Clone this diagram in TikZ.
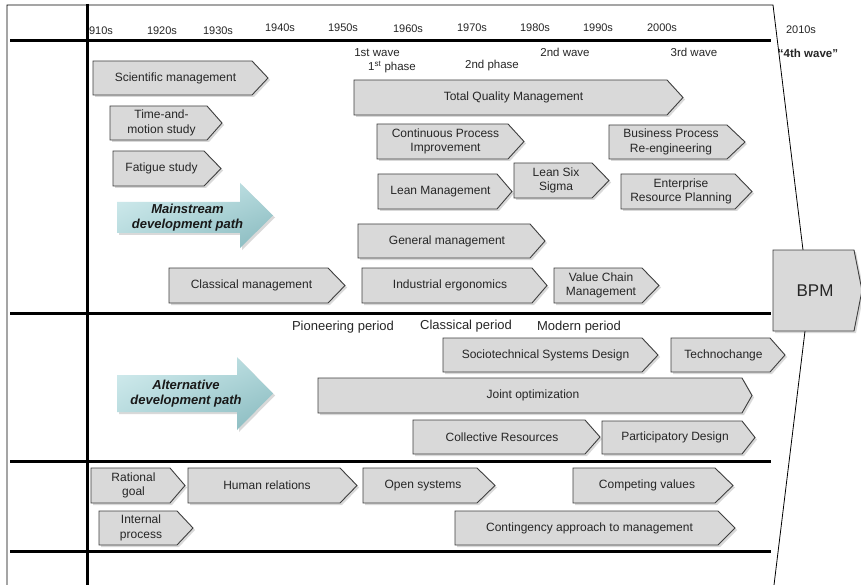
\documentclass[tikz,border=0pt]{standalone}
\usepackage{fontspec}
\setmainfont{Liberation Sans}
\usetikzlibrary{shadings}

\definecolor{boxfill}{HTML}{D9D9D9}
\definecolor{boxedge}{HTML}{3F3F3F}
\definecolor{tealA}{HTML}{D6EEF0}
\definecolor{tealB}{HTML}{B2D8DB}
\definecolor{tealC}{HTML}{86B8BD}
\definecolor{inkgray}{HTML}{262626}

\tikzset{
  chevbox/.style={fill=boxfill, draw=boxedge, line width=0.9pt, line join=miter},
  chevshadow/.style={fill=black, opacity=0.15},
  chevtext/.style={font=\fontsize{12}{14.5}\selectfont, text=inkgray, align=center, inner sep=0pt},
  decade/.style={font=\fontsize{11}{13}\selectfont, text=inkgray, inner sep=0pt},
  wave/.style={font=\fontsize{11.5}{13}\selectfont, text=inkgray, inner sep=0pt},
  period/.style={font=\fontsize{13}{15}\selectfont, text=inkgray, inner sep=0pt},
  pathtext/.style={font=\fontsize{13}{14.5}\selectfont\bfseries\itshape, text=black!90, align=center, inner sep=0pt},
  frameline/.style={line width=0.8pt, black},
  rule/.style={line width=3pt, black},
}

% chevron box: name, left, top, body end, tip, bottom, label
\newcommand\chev[7]{%
  \fill[chevshadow, shift={(2,2)}] (#2,#3) -- (#4,#3) -- (#5,{(#3+#6)/2}) -- (#4,#6) -- (#2,#6) -- cycle;
  \draw[chevbox] (#2,#3) -- (#4,#3) -- (#5,{(#3+#6)/2}) -- (#4,#6) -- (#2,#6) -- cycle;
  \node[chevtext] (#1) at ({(#2+#4)/2+3},{(#3+#6)/2}) {#7};
}

% block arrow: name, left, shaft top, shaft bottom, head top, head bottom, shaft end, tip, label
\newcommand\bigarrow[9]{%
  \fill[chevshadow, shift={(2,2)}] (#2,#3) -- (#7,#3) -- (#7,#5) -- (#8,{(#5+#6)/2}) -- (#7,#6) -- (#7,#4) -- (#2,#4) -- cycle;
  \shade[upper left=tealA, upper right=tealB, lower left=tealB, lower right=tealC]
    (#2,#3) -- (#7,#3) -- (#7,#5) -- (#8,{(#5+#6)/2}) -- (#7,#6) -- (#7,#4) -- (#2,#4) -- cycle;
  \node[pathtext] (#1) at ({(#2+#7)/2+9},{(#3+#4)/2}) {#9};
}

\begin{document}
\begin{tikzpicture}[x=1pt, y=-1pt]
\useasboundingbox (0,0) rectangle (861,585);
\clip (0,0) rectangle (861,585);
\fill[white] (0,0) rectangle (861,585);

% outer frame and funnel towards BPM
\draw[frameline] (7,585) -- (7,5) -- (773,5) -- (803,250);
\draw[frameline] (805,331) -- (774,585);

% decades
\node[decade] (d1910) at (101,31) {910s};
\node[decade] (d1920) at (162,31) {1920s};
\node[decade] (d1930) at (218,31) {1930s};
\node[decade] (d1940) at (280,28) {1940s};
\node[decade] (d1950) at (343,28) {1950s};
\node[decade] (d1960) at (408,29) {1960s};
\node[decade] (d1970) at (472,28) {1970s};
\node[decade] (d1980) at (535,28) {1980s};
\node[decade] (d1990) at (598,28) {1990s};
\node[decade] (d2000) at (662,28) {2000s};
\node[decade] (d2010) at (801,30) {2010s};

% waves and phases
\node[wave] (w1) at (377,53) {1st wave};
\node[wave] (p1) at (392,67) {1\textsuperscript{st} phase};
\node[wave] (p2) at (492,66) {2nd phase};
\node[wave] (w2) at (565,52) {2nd wave};
\node[wave] (w3) at (694,52) {3rd wave};
\node[wave, font=\fontsize{11.5}{13}\selectfont\bfseries] (w4) at (808,53) {“4th wave”};

% mainstream path
\chev{sci}{93}{61}{252}{268}{95}{Scientific management}
\chev{tms}{110}{106}{207}{222}{140}{Time-and-\\motion study}
\chev{fat}{113}{151}{204}{221}{186}{Fatigue study}
\bigarrow{main}{117}{202}{233}{183}{248}{240}{273}{Mainstream\\development path}
\chev{cls}{169}{268}{328}{345}{303}{Classical management}
\chev{tqm}{354}{80}{667}{683}{115}{Total Quality Management}
\chev{cpi}{377}{124}{508}{524}{159}{Continuous Process\\Improvement}
\chev{bpr}{609}{125}{727}{745}{159}{Business Process\\Re-engineering}
\chev{lean}{378}{174}{497}{512}{209}{Lean Management}
\chev{lss}{514}{163}{592}{609}{198}{Lean Six\\Sigma}
\chev{erp}{621}{174}{735}{752}{209}{Enterprise\\Resource Planning}
\chev{gen}{358}{224}{530}{545}{258}{General management}
\chev{ind}{362}{268}{532}{547}{303}{Industrial ergonomics}
\chev{vcm}{554}{268}{642}{659}{303}{Value Chain\\Management}

% BPM
\fill[chevshadow, shift={(2,2)}] (773,250) -- (854,250) -- (862,290.5) -- (854,331) -- (773,331) -- cycle;
\draw[chevbox] (773,250) -- (854,250) -- (862,290.5) -- (854,331) -- (773,331) -- cycle;
\node[chevtext, font=\fontsize{17}{19}\selectfont] (bpm) at (815,291) {BPM};

% alternative path
\node[period] (pio) at (343,327) {Pioneering period};
\node[period] (clp) at (466,326) {Classical period};
\node[period] (mod) at (579,327) {Modern period};
\chev{std}{443}{338}{642}{658}{372}{Sociotechnical Systems Design}
\chev{tech}{671}{338}{770}{785}{372}{Technochange}
\bigarrow{alt}{117}{375}{412}{357}{430}{237}{273}{Alternative\\development path}
\chev{joint}{318}{378}{742}{752}{413}{Joint optimization}
\chev{coll}{413}{420}{585}{600}{454}{Collective Resources}
\chev{part}{602}{421}{742}{755}{454}{Participatory Design}

% organisational theories
\chev{rat}{91}{468}{170}{185}{503}{Rational\\goal}
\chev{hum}{188}{468}{340}{357}{503}{Human relations}
\chev{open}{363}{468}{477}{495}{503}{Open systems}
\chev{comp}{573}{468}{715}{733}{503}{Competing values}
\chev{intp}{99}{511}{177}{193}{545}{Internal\\process}
\chev{cont}{455}{511}{718}{735}{545}{Contingency approach to management}

% heavy rules
\draw[rule] (10,41) -- (771,41);
\draw[rule] (10,313) -- (771,313);
\draw[rule] (10,461) -- (771,461);
\draw[rule] (10,551) -- (771,551);
\draw[rule] (87,4) -- (87,585);
\end{tikzpicture}
\end{document}
